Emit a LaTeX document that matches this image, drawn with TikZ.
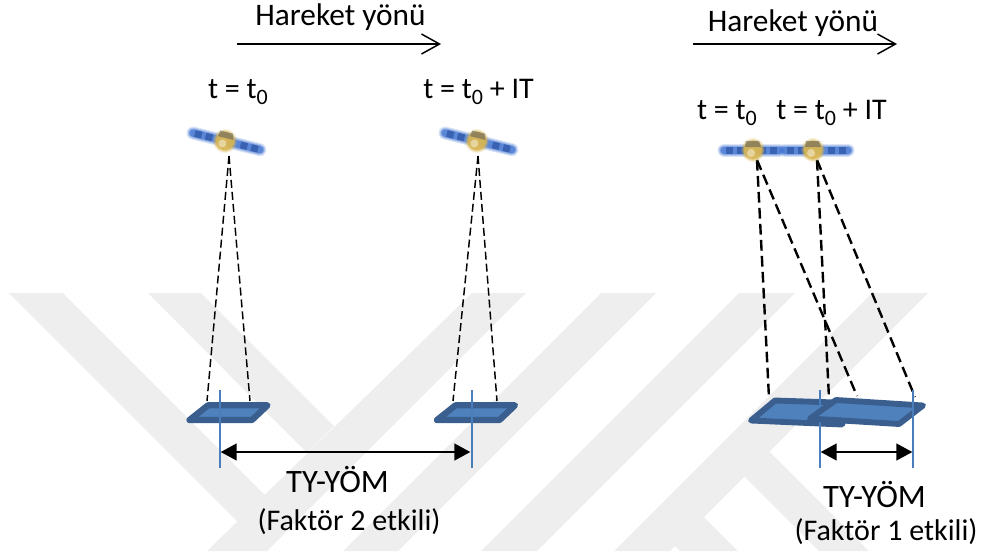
\documentclass[tikz,border=0pt]{standalone}
\usepackage{fontspec}
\setmainfont{Carlito}
\usetikzlibrary{arrows.meta}
\definecolor{wmgray}{HTML}{EEEEEE}
\definecolor{plateFill}{HTML}{4F81BD}
\definecolor{plateEdge}{HTML}{3A5F8F}
\definecolor{tickBlue}{HTML}{4A7EBB}
\definecolor{panelBlue}{HTML}{3A6FD0}
\definecolor{panelDark}{HTML}{1F4596}
\definecolor{bodyGold}{HTML}{D8B655}
\newcommand{\subzero}{\raisebox{-4.5pt}{\fontsize{16.5pt}{18pt}\selectfont 0}}
\tikzset{
  band/.style={fill=wmgray,draw=none},
  plate/.style={fill=plateFill,draw=plateEdge,line width=4.7pt,line join=round},
  plateR/.style={fill=plateFill,draw=plateEdge,line width=4.4pt,line join=round},
  tick/.style={draw=tickBlue,line width=1.6pt},
  span/.style={draw=black,line width=1.8pt,{Triangle[length=12pt,width=12.5pt]}-{Triangle[length=12pt,width=12.5pt]},shorten <=0.5pt,shorten >=0.5pt},
  heading/.style={draw=black,line width=1.1pt,-{Straight Barb[length=13.5pt,width=15pt,line width=1.1pt]}},
  beamthin/.style={draw=black,line width=1.1pt,dash pattern=on 6pt off 3pt},
  beamthick/.style={draw=black,line width=1.8pt,dash pattern=on 8pt off 4pt},
  label/.style={inner sep=0pt,anchor=base,font=\fontsize{22.5pt}{26pt}\selectfont},
  dirlabel/.style={label,font=\fontsize{23.5pt}{26pt}\selectfont},
  namelabel/.style={label,font=\fontsize{24.5pt}{26pt}\selectfont},
  pics/sat/.style 2 args={code={
    % soft solar wings
    \foreach \w/\o in {13/.18,11/.25,9/.35,7/.6}{
      \draw[panelBlue,line width=\w*0.75pt,opacity=\o,line cap=round] (-#1,0) -- (-6,0);
      \draw[panelBlue,line width=\w*0.75pt,opacity=\o,line cap=round] (6,0) -- (#2,0);
    }
    \fill[panelDark,opacity=.55] (-#1+2,-3.5) rectangle (-#1+9,3.5);
    \fill[panelDark,opacity=.55] (-#1+13,-3.5) rectangle (-#1+20,3.5);
    \fill[panelDark,opacity=.55] (#2-9,-3.5) rectangle (#2-2,3.5);
    \fill[panelDark,opacity=.55] (#2-20,-3.5) rectangle (#2-13,3.5);
    % soft gold body with a dark cap
    \foreach \r/\o in {12/.2,11/.3,10/.45,9/.85}{
      \fill[bodyGold,opacity=\o] (0,0) circle[radius=\r];
    }
    \fill[white!70!bodyGold,opacity=.6] (-2,3) circle[radius=4];
    \fill[black!65,opacity=.55] (-7,-9) -- (6,-9) -- (8,-3) -- (-8,-3) -- cycle;
  }}
}
\begin{document}
\begin{tikzpicture}[x=0.75pt,y=-0.75pt]
\useasboundingbox (0,0) rectangle (982,551);
\begin{scope}
\clip (0,0) rectangle (982,551);
% background emblem: diagonal bands
\fill[band] (9,293) -- (63,293) -- (265,495) -- (238,522) -- cycle;
\fill[band] (148,293) -- (201,293) -- (334,426) -- (307,453) -- cycle;
\fill[band] (472,293) -- (526,293) -- (267,551) -- (207,551) -- cycle;
\fill[band] (601,293) -- (656,293) -- (398,551) -- (343,551) -- cycle;
\fill[band] (739,293) -- (795,293) -- (537,551) -- (481,551) -- cycle;
\fill[band] (872,293) -- (928,293) -- (670,551) -- (614,551) -- cycle;
\fill[band] (765,447) -- (869,551) -- (819,551) -- (740,472) -- cycle;
\fill[band] (699,512) -- (738,551) -- (680,551) -- (670,541) -- cycle;
\end{scope}

% anchor points
\coordinate (satA) at (225,141);
\coordinate (satB) at (477,141);
\coordinate (satC) at (753,150);
\coordinate (satD) at (813,150);
\coordinate (srcA) at (229,156);
\coordinate (srcB) at (478,156);
\coordinate (srcC) at (757,160);
\coordinate (srcD) at (817,160);
\coordinate (footA1) at (207,401);
\coordinate (footA2) at (250,401);
\coordinate (footB1) at (453,401);
\coordinate (footB2) at (497,401);
\coordinate (footC1) at (769,398);
\coordinate (footC2) at (857,396);
\coordinate (footD1) at (829,398);
\coordinate (footD2) at (915,397);
\coordinate (tickA1) at (219.7,390);
\coordinate (tickA2) at (219.7,468);
\coordinate (tickB1) at (471.7,390);
\coordinate (tickB2) at (471.7,468);
\coordinate (tickC1) at (819.7,390);
\coordinate (tickC2) at (819.7,468);
\coordinate (tickD1) at (913,390);
\coordinate (tickD2) at (913,468);
\coordinate (spanA1) at (220,452);
\coordinate (spanA2) at (471,452);
\coordinate (spanB1) at (820,452);
\coordinate (spanB2) at (913,452);
\coordinate (headA1) at (237,44);
\coordinate (headA2) at (441,44);
\coordinate (headB1) at (693,44);
\coordinate (headB2) at (897,44);

% viewing beams
\draw[beamthin] (srcA) -- (footA1);
\draw[beamthin] (srcA) -- (footA2);
\draw[beamthin] (srcB) -- (footB1);
\draw[beamthin] (srcB) -- (footB2);
\draw[beamthick] (srcC) -- (footC1);
\draw[beamthick] (srcC) -- (footC2);
\draw[beamthick] (srcD) -- (footD1);
\draw[beamthick] (srcD) -- (footD2);

% satellites
\pic[rotate=-14] at (satA) {sat={33}{36}};
\pic[rotate=-14] at (satB) {sat={33}{36}};
\pic[rotate=0] at (satC) {sat={29}{26}};
\pic[rotate=0] at (satD) {sat={28}{35}};

% ground footprints
\draw[plate] (208,405.3) -- (267.5,405.3) -- (252,420) -- (189.5,420) -- cycle;
\draw[plate] (455.5,405.3) -- (515,405.3) -- (499.5,420) -- (437,420) -- cycle;
\draw[plateR] (775,400.5) -- (851,403) -- (842,424.5) -- (751,420.5) -- cycle;
\draw[tick] (tickC1) -- (tickC2);
\draw[plateR] (836,400) -- (923,405.5) -- (899,424) -- (810,418.5) -- cycle;
\draw[tick] (tickA1) -- (tickA2);
\draw[tick] (tickB1) -- (tickB2);
\draw[tick] (tickD1) -- (tickD2);

% swath arrows and direction arrows
\draw[span] (spanA1) -- (spanA2);
\draw[span] (spanB1) -- (spanB2);
\draw[heading] (headA1) -- (headA2);
\draw[heading] (headB1) -- (headB2);

% labels
\node[dirlabel] (dirA) at (340.5,25) {Hareket yönü};
\node[dirlabel] (dirB) at (793,31) {Hareket yönü};
\node[label] (timeA) at (238,98) {t = t\subzero};
\node[label] (timeB) at (478.5,98) {t = t\subzero{} + IT};
\node[label] (timeC) at (727,119) {t = t\subzero};
\node[label] (timeD) at (831.5,119) {t = t\subzero{} + IT};
\node[namelabel] (nameA) at (337.5,492) {TY-YÖM};
\node[label] (noteA) at (349,530) {(Faktör 2 etkili)};
\node[namelabel] (nameB) at (874.5,507) {TY-YÖM};
\node[label] (noteB) at (886,540) {(Faktör 1 etkili)};
\end{tikzpicture}
\end{document}
